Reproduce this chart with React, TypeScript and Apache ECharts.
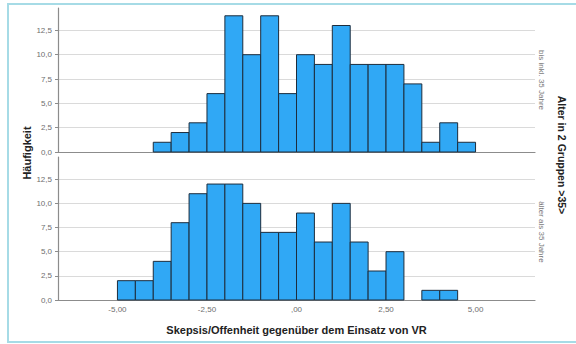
import React, { useEffect, useRef } from "react";
import * as echarts from "echarts";

const binStarts = [-5, -4.5, -4, -3.5, -3, -2.5, -2, -1.5, -1, -0.5, 0, 0.5, 1, 1.5, 2, 2.5, 3, 3.5, 4, 4.5];
const binWidth = 0.5;
const countsUpTo35 = [0, 0, 1, 2, 3, 6, 14, 10, 14, 6, 10, 9, 13, 9, 9, 9, 7, 1, 3, 1];
const countsOver35 = [2, 2, 4, 8, 11, 12, 12, 10, 7, 7, 9, 6, 10, 6, 3, 5, 0, 1, 1, 0];
const xTicks = [-5, -2.5, 0, 2.5, 5];
const yTicks = [0, 2.5, 5, 7.5, 10, 12.5];
const groupLabels = ["bis inkl. 35 Jahre", "älter als 35 Jahre"];
const xTitle = "Skepsis/Offenheit gegenüber dem Einsatz von VR";
const yTitle = "Häufigkeit";
const stripTitle = "Alter in 2 Gruppen >35>";

const FONT = "Liberation Sans, Arial, sans-serif";
const BAR_FILL = "#30a8f5";
const BAR_STROKE = "#1d2d3d";

function fmtX(v: number): string {
  if (Math.abs(v) < 1e-9) return ",00";
  return v.toFixed(2).replace(".", ",");
}
function fmtY(v: number): string {
  return v.toFixed(1).replace(".", ",");
}

function buildData(counts: number[]) {
  const out: number[][] = [];
  binStarts.forEach((s, i) => {
    if (counts[i] > 0) out.push([s, s + binWidth, counts[i]]);
  });
  return out;
}

export default function App() {
  const ref = useRef<HTMLDivElement>(null);
  useEffect(() => {
    if (!ref.current) return;
    const chart = echarts.init(ref.current, undefined, { renderer: "svg" });
    const renderItem = (_params: any, api: any) => {
      const x0 = api.value(0);
      const x1 = api.value(1);
      const y = api.value(2);
      const p0 = api.coord([x0, y]);
      const p1 = api.coord([x1, 0]);
      return {
        type: "rect",
        shape: { x: p0[0], y: p0[1], width: p1[0] - p0[0], height: p1[1] - p0[1] },
        style: { fill: BAR_FILL, stroke: BAR_STROKE, lineWidth: 1 },
      };
    };
    const xAxisBase = (gridIndex: number, showLabels: boolean) => ({
      type: "value",
      gridIndex,
      min: -6.66,
      max: 6.66,
      axisLine: { show: true, onZero: false, lineStyle: { color: "#8c8c8c", width: 1.2 } },
      axisTick: { show: false, customValues: xTicks },
      splitLine: { show: false },
      axisLabel: {
        show: showLabels,
        customValues: xTicks,
        formatter: (v: number) => fmtX(v),
        color: "#6e6e6e",
        fontSize: 8,
        fontFamily: FONT,
        margin: 5,
      },
      name: showLabels ? xTitle : "",
      nameLocation: "middle",
      nameGap: 24,
      nameTextStyle: { fontFamily: FONT, fontWeight: "bold", fontSize: 11, color: "#222" },
    });
    const yAxisBase = (gridIndex: number) => ({
      type: "value",
      gridIndex,
      min: 0,
      max: 14.8,
      axisLine: { show: true, onZero: false, lineStyle: { color: "#8c8c8c", width: 1.2 } },
      axisTick: { show: true, length: 3, customValues: yTicks, lineStyle: { color: "#8c8c8c" } },
      splitLine: { show: true, lineStyle: { color: "#dadada", width: 1 } },
      axisLabel: {
        customValues: yTicks,
        formatter: (v: number) => fmtY(v),
        color: "#6e6e6e",
        fontSize: 8,
        fontFamily: FONT,
        margin: 6,
      },
    });
    chart.setOption({
      animation: false,
      grid: [
        { left: 58, top: 8, width: 477, height: 144 },
        { left: 58, top: 157, width: 477, height: 143 },
      ],
      xAxis: [xAxisBase(0, false), xAxisBase(1, true)],
      yAxis: [yAxisBase(0), yAxisBase(1)],
      series: [
        {
          type: "custom",
          xAxisIndex: 0,
          yAxisIndex: 0,
          renderItem,
          encode: { x: [0, 1], y: 2 },
          data: buildData(countsUpTo35),
        },
        {
          type: "custom",
          xAxisIndex: 1,
          yAxisIndex: 1,
          renderItem,
          encode: { x: [0, 1], y: 2 },
          data: buildData(countsOver35),
        },
      ],
      graphic: [
        {
          type: "rect",
          shape: { x: 8, y: 4, width: 600, height: 338 },
          style: { fill: "none", stroke: "#a6dbe6", lineWidth: 2 },
          silent: true,
        },
        {
          type: "text",
          x: 27,
          y: 153,
          rotation: Math.PI / 2,
          style: {
            text: yTitle,
            fontFamily: FONT,
            fontWeight: "bold",
            fontSize: 11,
            fill: "#222",
            align: "center",
            verticalAlign: "middle",
          },
        },
        {
          type: "text",
          x: 541,
          y: 80,
          rotation: -Math.PI / 2,
          style: {
            text: groupLabels[0],
            fontFamily: FONT,
            fontSize: 8,
            fill: "#777",
            align: "center",
            verticalAlign: "middle",
          },
        },
        {
          type: "text",
          x: 541,
          y: 232,
          rotation: -Math.PI / 2,
          style: {
            text: groupLabels[1],
            fontFamily: FONT,
            fontSize: 8,
            fill: "#777",
            align: "center",
            verticalAlign: "middle",
          },
        },
        {
          type: "text",
          x: 562,
          y: 155,
          rotation: -Math.PI / 2,
          style: {
            text: stripTitle,
            fontFamily: FONT,
            fontWeight: "bold",
            fontSize: 10.5,
            fill: "#222",
            align: "center",
            verticalAlign: "middle",
          },
        },
      ],
    });
    return () => chart.dispose();
  }, []);
  return (
    <div
      ref={ref}
      style={{ position: "fixed", left: 0, top: 0, width: 576, height: 344, background: "#fff" }}
    />
  );
}
